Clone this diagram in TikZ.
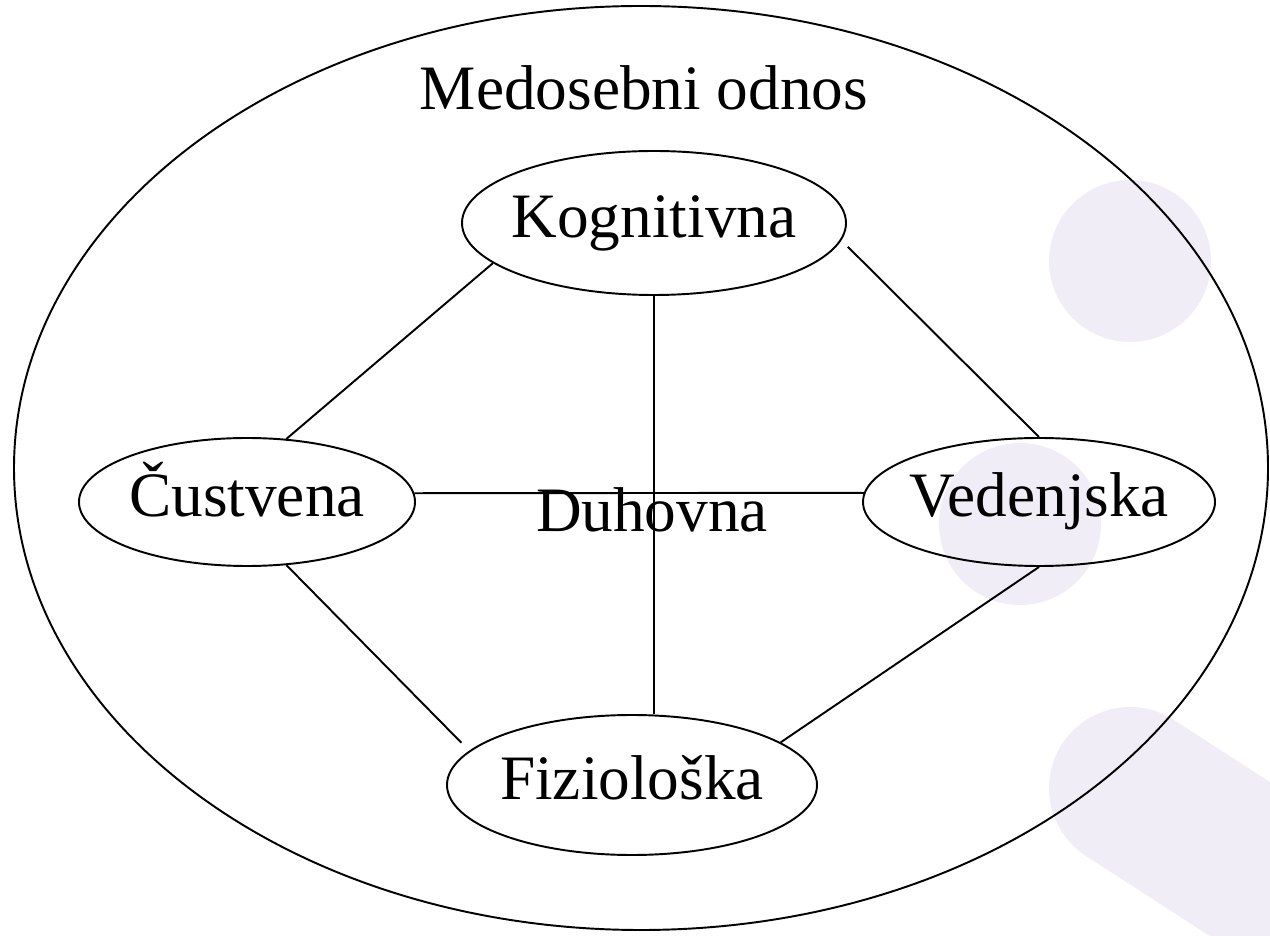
\documentclass[tikz,border=0pt]{standalone}
\usepackage{fontspec}
\setmainfont{Liberation Serif}
\usepackage{tikz}
\usetikzlibrary{shapes.geometric}

\definecolor{lila}{RGB}{240,237,246}

\tikzset{
  podrocje/.style={draw, ellipse, line width=1.1pt, inner sep=0pt,
    text height=24.5pt, text depth=7.9pt},
  povezava/.style={-, line width=1.1pt}
}

\begin{document}
\begin{tikzpicture}[font=\fontsize{36}{40}\selectfont]
\useasboundingbox (0,0) rectangle (25.4,18.7);
% ozadje
\begin{scope}
\clip (0,0) rectangle (25.4,18.7);
\fill[lila] (22.6,13.48) circle[radius=1.62];
\fill[lila] (20.4,8.22) circle[radius=1.62];
\draw[lila, line width=3.24cm, line cap=round] (22.6,2.94) -- (27.64,-0.32);
\end{scope}
% velika elipsa
\draw[line width=1.1pt] (12.82,9.34) ellipse[x radius=12.54, y radius=9.24];
\node[anchor=base] (odnos) at (12.88,16.5) {Medosebni odnos};
% podrocja
\node[podrocje, minimum width=7.68cm, minimum height=2.88cm] (kog) at (13.08,14.24) {\makebox[0pt]{Kognitivna}};
\node[podrocje, minimum width=6.72cm, minimum height=2.56cm] (cus) at (4.94,8.66) {\makebox[0pt]{Čustvena}};
\node[podrocje, minimum width=7.04cm, minimum height=2.56cm] (ved) at (20.78,8.66) {\makebox[0pt]{Vedenjska}};
\node[podrocje, minimum width=7.40cm, minimum height=2.80cm] (fiz) at (12.64,3.00) {\makebox[0pt]{Fiziološka}};
\node[anchor=base] (duh) at (13.04,8.06) {Duhovna};
% povezave
\draw[povezava] (kog.194) -- (cus.58);
\draw[povezava] ([shift={(0.38,0.14)}]kog.-10) -- (ved.north);
\draw[povezava] (kog.south) -- (kog.south |- fiz.north);
\draw[povezava] (cus.3) -- (ved.177);
\draw[povezava] (cus.-58) -- ([shift={(-0.3,0.07)}]fiz.166);
\draw[povezava] (ved.south) -- (fiz.16);
\end{tikzpicture}
\end{document}
